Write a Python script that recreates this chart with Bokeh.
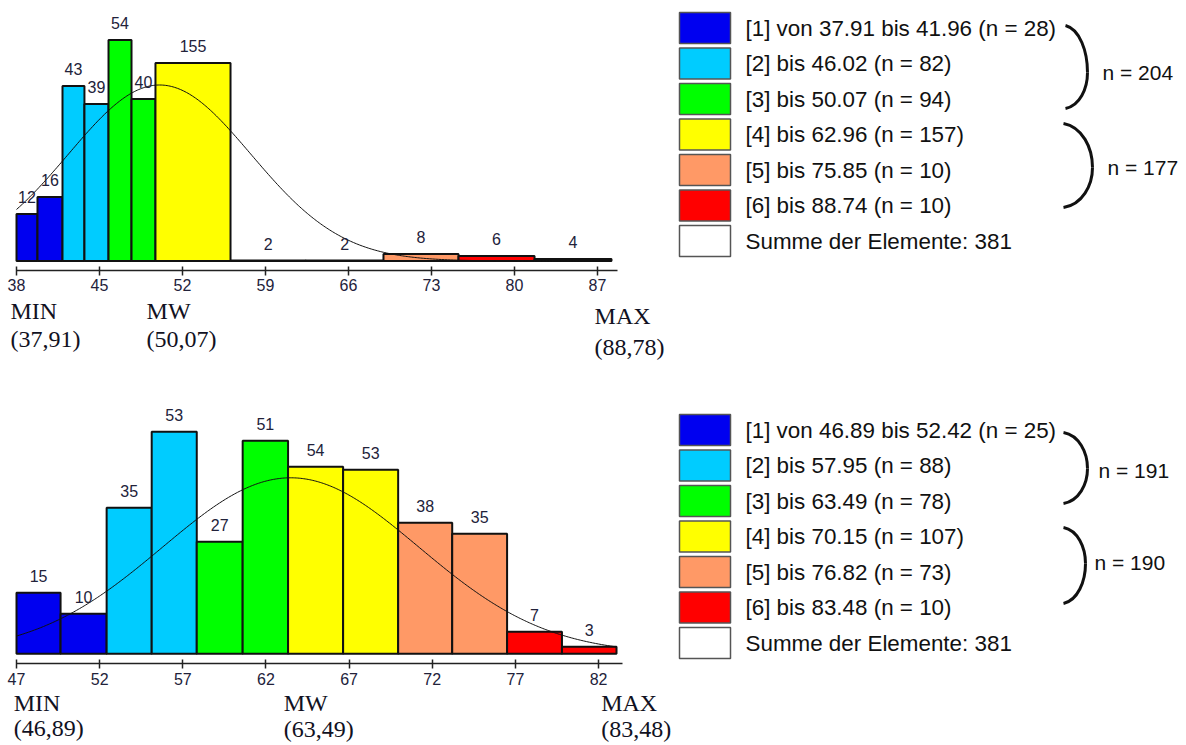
import numpy as np
from bokeh.plotting import figure
from bokeh.models import Range1d, LinearAxis, FixedTicker, ColumnDataSource
from bokeh.layouts import column, row
from bokeh.embed import file_html
from bokeh.resources import INLINE
from bokeh.core.properties import value

# ---------------- data: upper chart ----------------
top_edges = [38.0, 39.77, 41.88, 43.73, 45.76, 47.70, 49.72, 56.05, 62.4, 68.95, 75.28, 81.69, 88.18]
top_counts = [12, 16, 43, 39, 54, 40, 155, 2, 2, 8, 6, 4]
top_heights = [47, 64, 175, 157, 221, 162, 198, 0.5, 0.5, 7, 5, 2]   # bar heights (density scale)
top_classes = [1, 1, 2, 2, 3, 3, 4, 4, 5, 5, 6, 6]
top_ticks = [38, 45, 52, 59, 66, 73, 80, 87]
top_min, top_mw, top_max = 37.91, 50.07, 88.78
top_sd, top_peak = 7.7, 176
top_class_upper = [41.96, 46.02, 50.07, 62.96, 75.85, 88.74]
top_class_n = [28, 82, 94, 157, 10, 10]
top_total = 381

# ---------------- data: lower chart ----------------
bot_edges = [47.0, 49.65, 52.42, 55.13, 57.84, 60.6, 63.33, 66.64, 69.95, 73.2, 76.5, 79.8, 83.08]
bot_counts = [15, 10, 35, 53, 27, 51, 54, 53, 38, 35, 7, 3]
bot_heights = [61, 40, 146, 222, 112, 213, 187, 184, 131, 120, 22, 7]
bot_classes = [1, 1, 2, 2, 3, 3, 4, 4, 5, 5, 6, 6]
bot_ticks = [47, 52, 57, 62, 67, 72, 77, 82]
bot_min, bot_mw, bot_max = 46.89, 63.49, 83.48
bot_sd, bot_peak = 7.7, 176
bot_class_upper = [52.42, 57.95, 63.49, 70.15, 76.82, 83.48]
bot_class_n = [25, 88, 78, 107, 73, 10]
bot_total = 381

class_colors = ["#0000F0", "#00CCFF", "#00FF00", "#FFFF00", "#FF9966", "#FF0000"]

SANS = "Liberation Sans"
SERIF = "Liberation Serif"
HIST_W, LEG_W = 676, 506
LX = 676  # image x where the legend panel begins


def num_de(v):
    return ("%.2f" % v).replace(".", ",")


def make_hist(edges, counts, heights, classes, ticks, vmin, vmw, vmax, sd, peak,
              height, ppu, baseline, axis_gap, axis_end, row1, row2, dx):
    x_start = ticks[0] - 16 / ppu
    x_end = x_start + HIST_W / ppu
    p = figure(width=HIST_W, height=height,
               x_range=Range1d(x_start, x_end),
               y_range=Range1d(-(height - baseline), baseline),
               x_axis_type=None, y_axis_type=None, toolbar_location=None,
               output_backend="svg", min_border=0, outline_line_color=None)
    p.background_fill_color = "white"
    p.border_fill_color = "white"

    src = ColumnDataSource(dict(
        left=edges[:-1], right=edges[1:], top=heights,
        mid=[(a + b) / 2 for a, b in zip(edges[:-1], edges[1:])],
        lab=[str(c) for c in counts],
        color=[class_colors[c - 1] for c in classes]))
    p.quad(left="left", right="right", top="top", bottom=0, source=src,
           fill_color="color", line_color="#111111", line_width=2)

    xs = np.linspace(edges[0], edges[-1], 400)
    ys = peak * np.exp(-0.5 * ((xs - vmw) / sd) ** 2)
    p.line(xs, ys, line_color="#111111", line_width=1)

    p.text(x="mid", y="top", text="lab", source=src, y_offset=-17,
           text_align="center", text_baseline="middle",
           text_font=value(SANS), text_font_size="16px", text_color="#22223a")

    ax = LinearAxis(ticker=FixedTicker(ticks=ticks), fixed_location=-axis_gap,
                    bounds=(ticks[0], axis_end))
    ax.axis_line_color = "#222222"
    ax.axis_line_width = 1.5
    ax.major_tick_line_color = "#222222"
    ax.major_tick_line_width = 1.5
    ax.major_tick_in = 4
    ax.major_tick_out = 5
    ax.minor_tick_line_color = None
    ax.major_label_standoff = 4
    ax.major_label_text_font = SANS
    ax.major_label_text_font_size = "16px"
    ax.major_label_text_color = "#22223a"
    p.add_layout(ax, "below")

    st = ColumnDataSource(dict(
        x=[vmin, vmw, vmax], y1=row1, y2=row2, dx=dx,
        t1=["MIN", "MW", "MAX"],
        t2=["(" + num_de(v) + ")" for v in (vmin, vmw, vmax)]))
    p.text(x="x", y="y1", text="t1", x_offset="dx", source=st,
           text_align="left", text_baseline="middle",
           text_font=value(SERIF), text_font_size="24px", text_color="#111122")
    p.text(x="x", y="y2", text="t2", x_offset="dx", source=st,
           text_align="left", text_baseline="middle",
           text_font=value(SERIF), text_font_size="24px", text_color="#111122")
    return p


def make_legend(height, vmin, uppers, ns, total, sw_top, braces):
    p = figure(width=LEG_W, height=height, x_range=Range1d(LX, LX + LEG_W), y_range=Range1d(height, 0),
               x_axis_type=None, y_axis_type=None, toolbar_location=None,
               output_backend="svg", min_border=0, outline_line_color=None)
    p.background_fill_color = "white"
    p.border_fill_color = "white"
    pitch = 35.5
    labels = []
    for i, (u, n) in enumerate(zip(uppers, ns)):
        if i == 0:
            labels.append("[1] von %.2f bis %.2f (n = %d)" % (vmin, u, n))
        else:
            labels.append("[%d] bis %.2f (n = %d)" % (i + 1, u, n))
    labels.append("Summe der Elemente: %d" % total)
    cols = class_colors + ["#FFFFFF"]
    tops = [sw_top + pitch * i for i in range(len(labels))]
    p.quad(left=679, right=730, top=tops, bottom=[t + 31 for t in tops],
           fill_color=cols, line_color="#555555", line_width=1.5)
    p.text(x=745, y=[t + 15.5 for t in tops], text=labels,
           text_align="left", text_baseline="middle",
           text_font=value(SANS), text_font_size="22.4px", text_color="#111111")
    for (x0, yt, xt, ym, yb, tx, ty, ntext) in braces:
        dx = xt - x0
        p.bezier(x0=[x0, xt], y0=[yt, ym], x1=[xt, x0], y1=[ym, yb],
                 cx0=[x0 + 0.65 * dx, xt], cy0=[yt + 0.08 * (ym - yt), ym + 0.45 * (yb - ym)],
                 cx1=[xt, x0 + 0.65 * dx], cy1=[ym - 0.45 * (ym - yt), yb - 0.08 * (yb - ym)],
                 line_color="#111111", line_width=3)
        p.text(x=[tx], y=[ty], text=[ntext], text_align="left", text_baseline="middle",
               text_font=value(SANS), text_font_size="21px", text_color="#111111")
    return p


top_hist = make_hist(top_edges, top_counts, top_heights, top_classes, top_ticks,
                     top_min, top_mw, top_max, top_sd, top_peak,
                     height=372, ppu=11.857, baseline=260.5, axis_gap=9, axis_end=88.7,
                     row1=[-49.5, -49.5, -54.5], row2=[-78, -78, -86], dx=[-5, -13, -24])
bot_hist = make_hist(bot_edges, bot_counts, bot_heights, bot_classes, bot_ticks,
                     bot_min, bot_mw, bot_max, bot_sd, bot_peak,
                     height=370, ppu=16.63, baseline=281.3, axis_gap=10, axis_end=83.45,
                     row1=[-48.7, -48.7, -48.7], row2=[-74, -75, -75], dx=[-1, -7, -22])

top_leg = make_legend(372, top_min, top_class_upper, top_class_n, top_total, 12,
                      [(1065, 25, 1087, 72, 108, 1102, 72, "n = %d" % sum(top_class_n[:3])),
                       (1063, 123, 1092, 167, 207, 1107, 167, "n = %d" % sum(top_class_n[3:]))])
bot_leg = make_legend(370, bot_min, bot_class_upper, bot_class_n, bot_total, 42,
                      [(1063, 60, 1087, 96, 131, 1098, 98, "n = %d" % sum(bot_class_n[:3])),
                       (1063, 155, 1085, 191, 231, 1094, 190, "n = %d" % sum(bot_class_n[3:]))])

layout = column(row(top_hist, top_leg), row(bot_hist, bot_leg))
open("out.html", "w").write(file_html(layout, INLINE))
